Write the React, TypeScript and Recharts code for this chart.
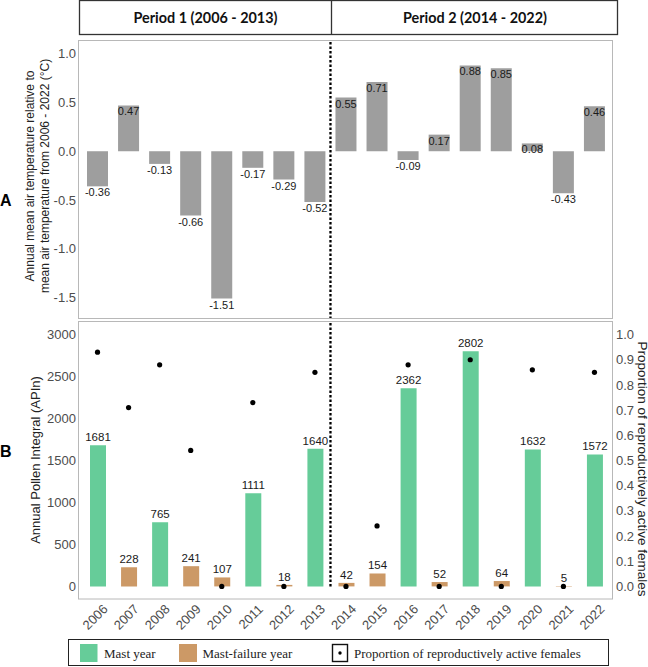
import React from 'react';
import {
  BarChart,
  ComposedChart,
  Bar,
  Scatter,
  XAxis,
  YAxis,
  ReferenceLine,
  LabelList,
  Cell,
} from 'recharts';

// ---------- data ----------
const years = ['2006', '2007', '2008', '2009', '2010', '2011', '2012', '2013', '2014', '2015', '2016', '2017', '2018', '2019', '2020', '2021', '2022'];
const tempAnomaly = [-0.36, 0.47, -0.13, -0.66, -1.51, -0.17, -0.29, -0.52, 0.55, 0.71, -0.09, 0.17, 0.88, 0.85, 0.08, -0.43, 0.46];
const pollenIntegral = [1681, 228, 765, 241, 107, 1111, 18, 1640, 42, 154, 2362, 52, 2802, 64, 1632, 5, 1572];
const mastYear = [true, false, true, false, false, true, false, true, false, false, true, false, true, false, true, false, true];
const activeFemales = [0.93, 0.71, 0.88, 0.54, 0, 0.73, 0, 0.85, 0, 0.24, 0.88, 0, 0.9, 0, 0.86, 0, 0.85];

const tempTicks = [-1.5, -1, -0.5, 0, 0.5, 1];
const pollenTicks = [0, 500, 1000, 1500, 2000, 2500, 3000];
const propTicks = [0, 0.1, 0.2, 0.3, 0.4, 0.5, 0.6, 0.7, 0.8, 0.9, 1.0];
const periodLabels = ['Period 1 (2006 - 2013)', 'Period 2 (2014 - 2022)'];
const periodBreakYear = '2013';
const legendLabels = ['Mast year', 'Mast-failure year', 'Proportion of reproductively active females'];
const tempTitle = ['Annual mean air temperature relative to', 'mean air temperature from 2006 - 2022 (°C)'];
const pollenTitle = 'Annual Pollen Integral (APIn)';
const propTitle = 'Proportion of reproductively active females';

const tempData = years.map((year, i) => ({ year, temp: tempAnomaly[i] }));
const pollenData = years.map((year, i) => ({
  year,
  apin: pollenIntegral[i],
  mast: mastYear[i],
  prop: activeFemales[i],
}));

// ---------- styles ----------
const MAST = '#66cc99';
const FAIL = '#cc9966';
const GREY_BAR = '#9e9e9e';
const TICK = '#4d4d4d';
const BORDER = '#b8b8b8';
const SANS = "'Liberation Sans', Arimo, Arial, Helvetica, sans-serif";
const SERIF = "'Liberation Serif', 'Times New Roman', serif";

const TempLabel = (props: any) => {
  const x = Number(props.x);
  const y = Number(props.y);
  const w = Number(props.width);
  const h = Number(props.height);
  const v = Number(props.value);
  const top = Math.min(y, y + h);
  const bottom = Math.max(y, y + h);
  const end = v >= 0 ? top : bottom;
  return (
    <text x={x + w / 2} y={end + 10} textAnchor="middle" fontSize={11} fontFamily={SANS} fill="#1a1a1a">
      {v.toFixed(2)}
    </text>
  );
};

const PollenLabel = (props: any) => {
  const x = Number(props.x);
  const y = Number(props.y);
  const w = Number(props.width);
  const h = Number(props.height);
  const top = Math.min(y, y + h);
  return (
    <text x={x + w / 2} y={top - 4} textAnchor="middle" fontSize={11.5} fontFamily={SANS} fill="#1a1a1a">
      {props.value}
    </text>
  );
};

const YearTick = (props: any) => {
  const { x, y, payload } = props;
  const ax = x + 11;
  const ay = y + 11;
  return (
    <text
      x={ax}
      y={ay}
      transform={`rotate(-45 ${ax} ${ay})`}
      textAnchor="end"
      fontSize={13}
      fontFamily={SANS}
      fill={TICK}
    >
      {payload.value}
    </text>
  );
};

const Dot = (p: any) => <circle cx={p.cx} cy={p.cy} r={2.6} fill="#000" />;

const tickStyle = { fontSize: 13, fill: TICK, fontFamily: SANS };

export default function App() {
  return (
    <div
      style={{
        position: 'absolute',
        left: 0,
        top: 0,
        width: 648,
        height: 667,
        background: '#fff',
        fontFamily: SANS,
        overflow: 'hidden',
      }}
    >
      {/* Panel A */}
      <div style={{ position: 'absolute', left: 0, top: 0 }}>
        <BarChart
          width={648}
          height={330}
          data={tempData}
          margin={{ top: 41, right: 35, bottom: 11, left: 39 }}
        >
          <XAxis dataKey="year" hide padding={{ left: 3, right: 3 }} />
          <YAxis
            width={40}
            domain={[-1.72, 1.13]}
            ticks={tempTicks}
            allowDataOverflow
            tickFormatter={(v: number) => v.toFixed(1)}
            tickLine={false}
            axisLine={false}
            tickSize={0}
            tickMargin={3}
            tick={tickStyle}
          />
          <Bar dataKey="temp" fill={GREY_BAR} barSize={21} isAnimationActive={false}>
            <LabelList dataKey="temp" content={TempLabel} />
          </Bar>
          <ReferenceLine
            x={periodBreakYear}
            position="end"
            stroke="#000"
            strokeWidth={2.3}
            strokeDasharray="2.5 2"
          />
        </BarChart>
      </div>

      {/* Panel B */}
      <div style={{ position: 'absolute', left: 0, top: 300 }}>
        <ComposedChart
          width={648}
          height={340}
          data={pollenData}
          margin={{ top: 22, right: 0, bottom: 6, left: 39 }}
        >
          <XAxis
            dataKey="year"
            padding={{ left: 3, right: 3 }}
            height={35}
            tickLine={false}
            axisLine={false}
            tickSize={0}
            tickMargin={0}
            interval={0}
            tick={YearTick}
          />
          <YAxis
            yAxisId="l"
            width={40}
            domain={[-150, 3150]}
            ticks={pollenTicks}
            allowDataOverflow
            tickLine={false}
            axisLine={false}
            tickSize={0}
            tickMargin={3}
            tick={tickStyle}
          />
          <YAxis
            yAxisId="r"
            orientation="right"
            width={35}
            domain={[-0.05, 1.05]}
            ticks={propTicks}
            allowDataOverflow
            tickFormatter={(v: number) => v.toFixed(1)}
            tickLine={false}
            axisLine={false}
            tickSize={0}
            tickMargin={3}
            tick={tickStyle}
          />
          <Bar yAxisId="l" dataKey="apin" barSize={16} isAnimationActive={false}>
            {pollenData.map((d) => (
              <Cell key={d.year} fill={d.mast ? MAST : FAIL} />
            ))}
            <LabelList dataKey="apin" content={PollenLabel} />
          </Bar>
          <ReferenceLine
            yAxisId="l"
            segment={[
              { x: periodBreakYear, y: 0 },
              { x: periodBreakYear, y: 3150 },
            ]}
            position="end"
            stroke="#000"
            strokeWidth={2.3}
            strokeDasharray="2.5 2"
          />
          <Scatter yAxisId="r" dataKey="prop" shape={Dot} isAnimationActive={false} />
        </ComposedChart>
      </div>

      {/* static decorations: header, borders, titles, legend */}
      <svg
        width={648}
        height={667}
        style={{ position: 'absolute', left: 0, top: 0, pointerEvents: 'none' }}
      >
        {/* header */}
        <rect x={79.5} y={0.5} width={538} height={34} fill="none" stroke="#333" strokeWidth={1.3} />
        <line x1={331.5} y1={0.5} x2={331.5} y2={34.5} stroke="#333" strokeWidth={1.3} />
        <text
          x={205.5}
          y={23}
          textAnchor="middle"
          fontSize={16}
          fontWeight={700}
          fontFamily="Lato, 'Open Sans', sans-serif"
          textLength={144}
          lengthAdjust="spacingAndGlyphs"
          fill="#111"
        >
          {periodLabels[0]}
        </text>
        <text
          x={475}
          y={23}
          textAnchor="middle"
          fontSize={16}
          fontWeight={700}
          fontFamily="Lato, 'Open Sans', sans-serif"
          textLength={144}
          lengthAdjust="spacingAndGlyphs"
          fill="#111"
        >
          {periodLabels[1]}
        </text>

        {/* panel borders */}
        <rect x={78.5} y={40.5} width={534} height={278} fill="none" stroke={BORDER} strokeWidth={1} />
        <rect x={78.5} y={321.5} width={534} height={277.5} fill="none" stroke={BORDER} strokeWidth={1} />

        {/* panel letters */}
        <text x={0} y={206} fontSize={16} fontWeight={700} fontFamily={SANS} fill="#000">A</text>
        <text x={0} y={457} fontSize={16} fontWeight={700} fontFamily={SANS} fill="#000">B</text>

        {/* axis titles */}
        <text x={34} y={176} transform="rotate(-90 34 176)" textAnchor="middle" fontSize={12} fontFamily={SANS} fill="#222">
          {tempTitle[0]}
        </text>
        <text x={48.5} y={176} transform="rotate(-90 48.5 176)" textAnchor="middle" fontSize={12} fontFamily={SANS} fill="#222">
          {tempTitle[1]}
        </text>
        <text x={39.5} y={460} transform="rotate(-90 39.5 460)" textAnchor="middle" fontSize={13} fontFamily={SANS} fill="#222">
          {pollenTitle}
        </text>
        <text x={637.5} y={469} transform="rotate(90 637.5 469)" textAnchor="middle" fontSize={13.5} fontFamily={SANS} fill="#222">
          {propTitle}
        </text>

        {/* legend */}
        <rect x={68.5} y={639.5} width={540} height={26} fill="none" stroke="#222" strokeWidth={1} />
        <rect x={80} y={644} width={17.5} height={18} fill={MAST} />
        <text x={104} y={657.5} fontSize={13} fontFamily={SERIF} fill="#222">
          {legendLabels[0]}
        </text>
        <rect x={179} y={644} width={18} height={18} fill={FAIL} />
        <text x={202.5} y={657.5} fontSize={13} fontFamily={SERIF} fill="#222">
          {legendLabels[1]}
        </text>
        <rect x={332.5} y={644.5} width={15} height={17} fill="#fff" stroke="#111" strokeWidth={1.4} />
        <circle cx={340} cy={653} r={1.7} fill="#000" />
        <text x={354} y={657.5} fontSize={13} fontFamily={SERIF} fill="#222">
          {legendLabels[2]}
        </text>
      </svg>
    </div>
  );
}
